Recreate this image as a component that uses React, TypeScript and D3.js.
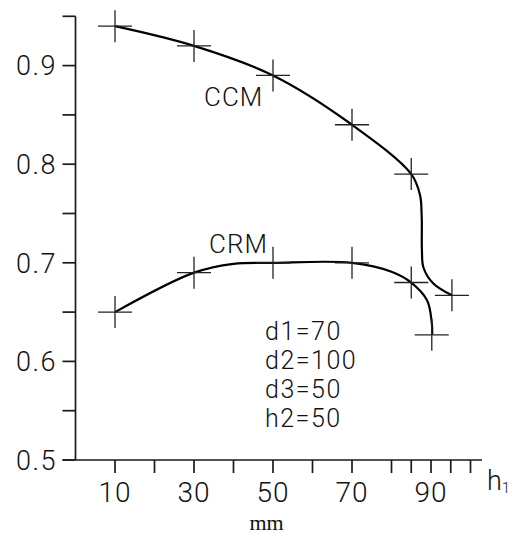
import React from "react";
import * as d3 from "d3";

// Marker (measured) points
const ccmX = [10, 30, 50, 70, 85, 95.3];
const ccmY = [0.94, 0.92, 0.89, 0.84, 0.79, 0.667];
const crmX = [10, 30, 50, 70, 85, 90.2];
const crmY = [0.65, 0.69, 0.70, 0.70, 0.68, 0.627];

// Fitted curve paths
const ccmCurveX = [10, 30, 50, 70, 85, 87.2, 87.65, 87.7, 88.1, 90.6, 95.3];
const ccmCurveY = [0.94, 0.92, 0.89, 0.84, 0.79, 0.769, 0.746, 0.713, 0.695, 0.679, 0.667];
const crmCurveX = [10, 30, 40, 50, 70, 80, 85, 89.0, 90.2, 90.3];
const crmCurveY = [0.65, 0.69, 0.699, 0.70, 0.70, 0.691, 0.68, 0.662, 0.639, 0.627];

const xTicks = [10, 20, 30, 40, 50, 60, 70, 80, 85, 90, 95, 100];
const xTickLabels = [10, 30, 50, 70, 90];
const yTicks = [0.5, 0.55, 0.6, 0.65, 0.7, 0.75, 0.8, 0.85, 0.9, 0.95];
const yTickLabels = [0.5, 0.6, 0.7, 0.8, 0.9];
const paramLines = ["d1=70", "d2=100", "d3=50", "h2=50"];

const W = 511;
const H = 534;

export default function App() {
  const x = d3.scaleLinear().domain([0, 100]).range([75.5, 470.5]);
  const y = d3.scaleLinear().domain([0.5, 0.95]).range([460, 16.3]);

  const line = d3
    .line<[number, number]>()
    .x((d) => x(d[0]))
    .y((d) => y(d[1]))
    .curve(d3.curveCatmullRom.alpha(0.5));

  const ccmPath = line(ccmCurveX.map((v, i) => [v, ccmCurveY[i]] as [number, number])) || "";
  const crmPath = line(crmCurveX.map((v, i) => [v, crmCurveY[i]] as [number, number])) || "";

  const font = "Roboto, 'Liberation Sans', sans-serif";
  const markers: [number, number][] = [
    ...ccmX.map((v, i) => [v, ccmY[i]] as [number, number]),
    ...crmX.map((v, i) => [v, crmY[i]] as [number, number]),
  ];

  const axisColor = "#1a1a1a";
  const x0 = x(0);
  const y0 = y(0.5);

  return (
    <svg
      width={W}
      height={H}
      viewBox={`0 0 ${W} ${H}`}
      style={{ position: "absolute", left: 0, top: 0, background: "#fff" }}
    >
      <rect width={W} height={H} fill="#fff" />
      {/* y axis */}
      <line x1={x0} x2={x0} y1={y(0.95)} y2={y0} stroke={axisColor} strokeWidth={1.7} />
      {yTicks.map((t) => (
        <line key={"yt" + t} x1={x0 - 13} x2={x0} y1={y(t)} y2={y(t)} stroke={axisColor} strokeWidth={1.7} />
      ))}
      {yTickLabels.map((t) => (
        <text
          key={"yl" + t}
          x={57}
          y={y(t)}
          dy="0.36em"
          textAnchor="end"
          fontFamily={font}
          fontWeight={300}
          fontSize={27}
          letterSpacing={1.5}
          fill="#111"
        >
          {t.toFixed(1)}
        </text>
      ))}
      {/* x axis */}
      <line x1={x0 - 13} x2={482} y1={y0} y2={y0} stroke={axisColor} strokeWidth={1.7} />
      {xTicks.map((t) => (
        <line key={"xt" + t} x1={x(t)} x2={x(t)} y1={y0} y2={y0 + 13} stroke={axisColor} strokeWidth={1.7} />
      ))}
      {xTickLabels.map((t) => (
        <text
          key={"xl" + t}
          x={x(t)}
          y={502}
          textAnchor="middle"
          fontFamily={font}
          fontWeight={300}
          fontSize={28}
          letterSpacing={1}
          fill="#111"
        >
          {t}
        </text>
      ))}
      <text x={487} y={490} fontFamily={font} fontWeight={300} fontSize={27} fill="#111">
        h
        <tspan fontSize={15} dy={3}>1</tspan>
      </text>
      <text x={266.5} y={530} textAnchor="middle" fontFamily="'Liberation Serif', 'DejaVu Serif', serif" fontSize={22} fill="#111">
        mm
      </text>

      {/* curves */}
      <path d={ccmPath} fill="none" stroke="#000" strokeWidth={2.2} />
      <path d={crmPath} fill="none" stroke="#000" strokeWidth={2.2} />

      {/* markers */}
      {markers.map(([mx, my], i) => (
        <g key={"m" + i} stroke="#222" strokeWidth={1.3}>
          <line x1={x(mx) - 17} x2={x(mx) + 17} y1={y(my)} y2={y(my)} />
          <line x1={x(mx)} x2={x(mx)} y1={y(my) - 16} y2={y(my) + 16} />
        </g>
      ))}

      {/* labels */}
      <text x={204} y={106} fontFamily={font} fontWeight={300} fontSize={26} letterSpacing={1} fill="#111">
        CCM
      </text>
      <text x={209} y={253} fontFamily={font} fontWeight={300} fontSize={26} letterSpacing={1} fill="#111">
        CRM
      </text>
      {paramLines.map((s, i) => (
        <text
          key={s}
          x={265}
          y={340 + i * 29}
          fontFamily={font}
          fontWeight={300}
          fontSize={25}
          letterSpacing={1.5}
          fill="#111"
        >
          {s}
        </text>
      ))}
    </svg>
  );
}
